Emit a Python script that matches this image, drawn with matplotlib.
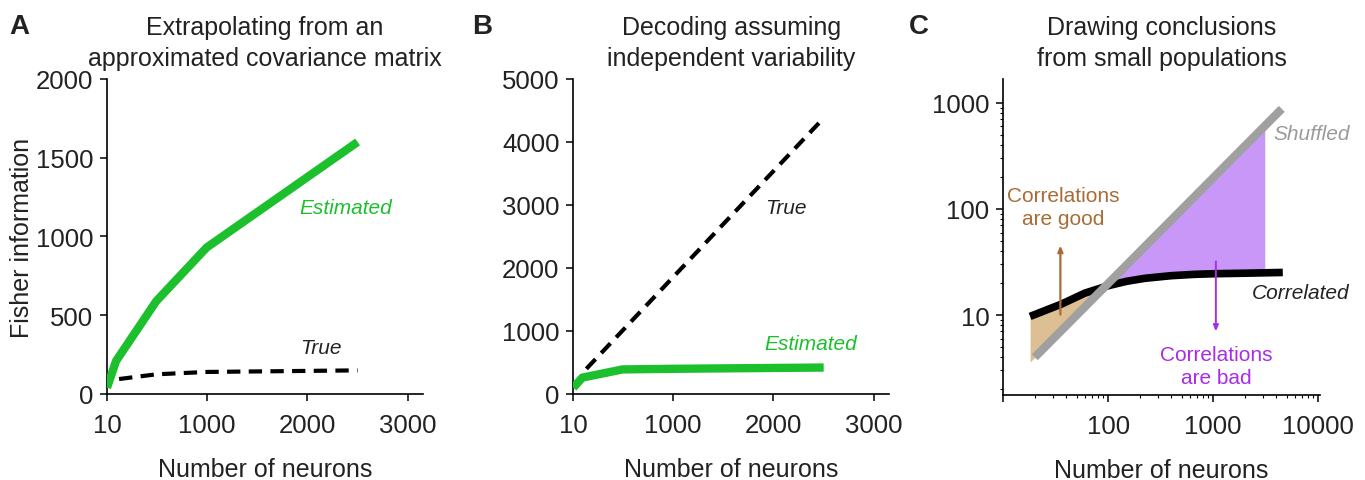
import matplotlib
matplotlib.use("Agg")
import matplotlib.pyplot as plt
import numpy as np
from matplotlib.ticker import LogLocator, NullFormatter, FixedLocator, FixedFormatter

plt.rcParams['font.family'] = ['Liberation Sans', 'DejaVu Sans']

# panel A: extrapolating from an approximated covariance matrix
a_est_x = [10, 100, 500, 1000, 2500]
a_est_y = [40, 210, 590, 930, 1600]
a_true_x = [130, 500, 1000, 2500]
a_true_y = [95, 125, 140, 150]

# panel B: decoding assuming independent variability
b_true_x = [140, 2500]
b_true_y = [400, 4380]
b_est_x = [10, 100, 500, 1000, 2500]
b_est_y = [100, 260, 390, 400, 420]

# panel C: drawing conclusions from small populations (log-log)
c_corr_x = [18, 36, 60, 100, 150, 224, 400, 670, 1000, 2000, 4600]
c_corr_y = [9.7, 12.7, 16.1, 18.9, 20.8, 22.2, 23.5, 24.2, 24.5, 24.8, 25.2]
c_shuf_x = [20, 4500]
c_shuf_y = [4, 880]
c_fill_end = 3100

green = '#1cbf2c'
tan = '#dcc093'
purple_fill = '#c997f8'
gray = '#a0a0a0'
brown = '#a86c36'
purple = '#a82ce8'

TICK_FS = 18.5
LABEL_FS = 18
TITLE_FS = 18
NOTE_FS = 15

fig = plt.figure(figsize=(13.65, 4.81), dpi=100)
axA = fig.add_axes([0.0784, 0.1788, 0.2315, 0.6549])
axB = fig.add_axes([0.4200, 0.1788, 0.2313, 0.6549])
axC = fig.add_axes([0.7350, 0.1767, 0.2320, 0.6570])


def style(ax):
    for s in ['top', 'right']:
        ax.spines[s].set_visible(False)
    for s in ['left', 'bottom']:
        ax.spines[s].set_linewidth(1.2)
    ax.tick_params(axis='both', labelsize=TICK_FS, width=1.1, length=5, direction='out',
                   labelcolor='#222222')
    ax.tick_params(axis='x', pad=9)
    ax.tick_params(axis='y', pad=5)
    ax.set_xlabel('Number of neurons', fontsize=LABEL_FS, labelpad=14, color='#222222')


# ---- A ----
axA.plot(a_est_x, a_est_y, color=green, lw=6, solid_capstyle='butt', zorder=3)
axA.plot(a_true_x, a_true_y, color='black', lw=3, dashes=(3.2, 2.0), zorder=2)
axA.set_xlim(10, 3150)
axA.set_ylim(0, 2000)
axA.set_xticks([10, 1000, 2000, 3000])
axA.set_yticks([0, 500, 1000, 1500, 2000])
style(axA)
axA.set_ylabel('Fisher information', fontsize=LABEL_FS, labelpad=1, color='#222222')
axA.text(2380, 1187, 'Estimated', color=green, style='italic', fontsize=NOTE_FS,
         ha='center', va='center')
axA.text(2135, 298, 'True', color='#222222', style='italic', fontsize=NOTE_FS,
         ha='center', va='center')
axA.set_title('Extrapolating from an\napproximated covariance matrix', fontsize=TITLE_FS,
              linespacing=1.38, pad=10, color='#222222')

# ---- B ----
axB.plot(b_true_x, b_true_y, color='black', lw=3, dashes=(3.2, 2.0), zorder=2)
axB.plot(b_est_x, b_est_y, color=green, lw=6, solid_capstyle='butt', zorder=3)
axB.set_xlim(10, 3150)
axB.set_ylim(0, 5000)
axB.set_xticks([10, 1000, 2000, 3000])
axB.set_yticks([0, 1000, 2000, 3000, 4000, 5000])
style(axB)
axB.text(2122, 2963, 'True', color='#222222', style='italic', fontsize=NOTE_FS,
         ha='center', va='center')
axB.text(2370, 794, 'Estimated', color=green, style='italic', fontsize=NOTE_FS,
         ha='center', va='center')
axB.set_title('Decoding assuming\nindependent variability', fontsize=TITLE_FS,
              linespacing=1.38, pad=10, color='#222222')

# ---- C ----
axC.set_xscale('log')
axC.set_yscale('log')


def loginterp(x, xp, fp):
    return 10 ** np.interp(np.log10(x), np.log10(xp), np.log10(fp))


fx = np.geomspace(c_corr_x[0], c_fill_end, 300)
f_corr = loginterp(fx, c_corr_x, c_corr_y)
f_shuf = 10 ** np.polyval(np.polyfit(np.log10(c_shuf_x), np.log10(c_shuf_y), 1), np.log10(fx))
axC.fill_between(fx, f_corr, f_shuf, where=f_corr >= f_shuf, interpolate=True,
                 color=tan, lw=0, zorder=1)
axC.fill_between(fx, f_corr, f_shuf, where=f_corr <= f_shuf, interpolate=True,
                 color=purple_fill, lw=0, zorder=1)
axC.plot(c_corr_x, c_corr_y, color='black', lw=5.5, solid_capstyle='butt', zorder=2)
axC.plot(c_shuf_x, c_shuf_y, color=gray, lw=6, solid_capstyle='butt', zorder=3)

axC.annotate('', xy=(35, 48), xytext=(35, 9.5),
             arrowprops=dict(arrowstyle='-|>,head_length=0.35,head_width=0.15',
                             color=brown, lw=1.6), zorder=4)
axC.annotate('', xy=(1060, 6.6), xytext=(1060, 34),
             arrowprops=dict(arrowstyle='-|>,head_length=0.35,head_width=0.15',
                             color=purple, lw=1.4), zorder=4)
axC.text(37, 104, 'Correlations\nare good', color=brown, fontsize=NOTE_FS, ha='center',
         va='center', linespacing=1.25)
axC.text(1077, 3.3, 'Correlations\nare bad', color=purple, fontsize=NOTE_FS, ha='center',
         va='center', linespacing=1.25)
axC.text(20000, 511, 'Shuffled', color='#9a9a9a', style='italic', fontsize=NOTE_FS,
         ha='right', va='center')
axC.text(20000, 16.4, 'Correlated', color='#222222', style='italic', fontsize=NOTE_FS,
         ha='right', va='center')

axC.set_xlim(10, 10400)
axC.set_ylim(1.76, 1683)
axC.xaxis.set_major_locator(FixedLocator([10, 100, 1000, 10000]))
axC.xaxis.set_major_formatter(FixedFormatter(['', '100', '1000', '10000']))
axC.yaxis.set_major_locator(FixedLocator([10, 100, 1000]))
axC.yaxis.set_major_formatter(FixedFormatter(['10', '100', '1000']))
axC.xaxis.set_minor_locator(LogLocator(base=10, subs=np.arange(2, 10), numticks=20))
axC.yaxis.set_minor_locator(LogLocator(base=10, subs=np.arange(2, 10), numticks=20))
axC.xaxis.set_minor_formatter(NullFormatter())
axC.yaxis.set_minor_formatter(NullFormatter())
style(axC)
axC.tick_params(which='minor', length=2.5, width=0.8)
axC.set_title('Drawing conclusions\nfrom small populations', fontsize=TITLE_FS,
              linespacing=1.38, pad=10, color='#222222')

# panel letters
for x, lab in [(0.007, 'A'), (0.346, 'B'), (0.666, 'C')]:
    fig.text(x, 0.93, lab, fontsize=20, fontweight='bold', ha='left', va='baseline',
             color='#222222')

fig.savefig('out.png', dpi=100)
